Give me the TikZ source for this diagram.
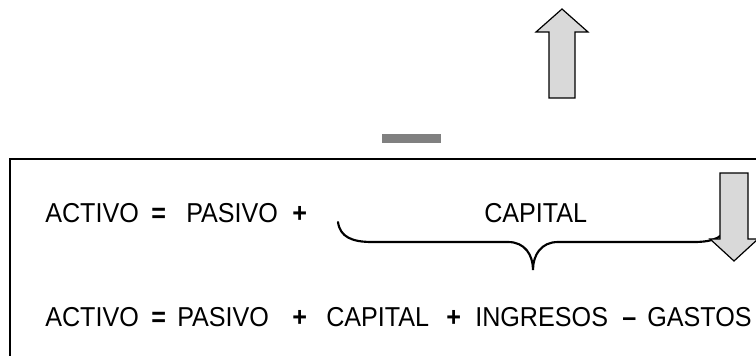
\documentclass[tikz,border=0pt]{standalone}
\usepackage{fontspec}
\setmainfont[FakeStretch=0.92]{Liberation Sans}
\begin{document}
\begin{tikzpicture}[x=0.75pt,y=-0.75pt,
  txt/.style={anchor=base west,inner sep=0pt,font=\fontsize{20.5}{24}\selectfont},
  op/.style={txt,font=\fontsize{20.5}{24}\selectfont\bfseries},
  bigarrow/.style={draw=black,line width=0.9pt,fill=black!15,line join=miter},
  bracestyle/.style={draw=black,line width=1.6pt,line cap=round}]
\clip (0,0) rectangle (756,356);
\useasboundingbox (0,0) rectangle (756,356);
% frame (open to the right and bottom)
\draw[line width=1.2pt] (10,400) -- (10,159) -- (800,159);
% gray minus bar
\fill[black!50] (382,134) rectangle (441,143);
% up arrow
\draw[bigarrow] (562,9) -- (588,32) -- (575,32) -- (575,98) -- (549,98) -- (549,32) -- (536,32) -- cycle;
% row 1
\node[txt] (a1) at (45,222) {ACTIVO};
\node[op]  (e1) at (151,222) {=};
\node[txt] (p1) at (186,222) {PASIVO};
\node[op]  (s1) at (292,222) {+};
\node[txt] (c1) at (484,222) {CAPITAL};
% brace under CAPITAL
\draw[bracestyle] (338,222) .. controls (340,237) and (352,242) .. (372,242) -- (508,242)
  .. controls (525,242) and (533,255) .. (533,270)
  .. controls (533,255) and (541,242) .. (558,242) -- (694,242)
  .. controls (714,242) and (726,237) .. (728,222);
% down arrow
\draw[bigarrow] (720,173) -- (748,173) -- (748,239) -- (758,239) -- (734,261) -- (710,239) -- (720,239) -- cycle;
% row 2
\node[txt] (a2) at (45,326) {ACTIVO};
\node[op]  (e2) at (151,326) {=};
\node[txt] (p2) at (177,326) {PASIVO};
\node[op]  (s2) at (292,326) {+};
\node[txt] (c2) at (326,326) {CAPITAL};
\node[op]  (s3) at (446,326) {+};
\node[txt] (i2) at (475,326) {INGRESOS};
\node[op]  (m2) at (622,326) {–};
\node[txt] (g2) at (647,326) {GASTOS};
\end{tikzpicture}
\end{document}
